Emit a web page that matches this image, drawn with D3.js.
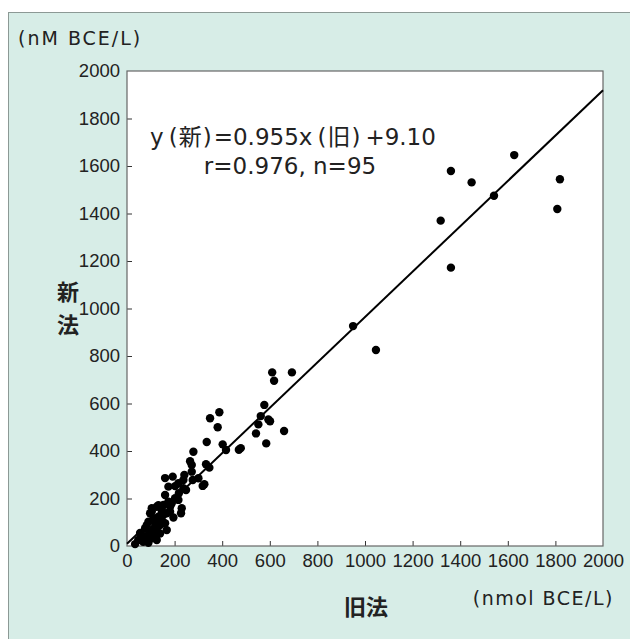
<!DOCTYPE html>
<html>
<head>
<meta charset="utf-8">
<script src="https://cdn.jsdelivr.net/npm/d3@7"></script>
<style>
  html, body { margin: 0; padding: 0; background: #ffffff; }
  svg { display: block; }
  text { font-family: "DejaVu Sans", "Noto Sans CJK JP", sans-serif; fill: #222; }
  .jp { font-family: "Noto Sans CJK JP", sans-serif; }
</style>
</head>
<body>
<svg id="chart" width="630" height="639"></svg>
<script>
// 旧法 (x) vs 新法 (y) measurements, nmol BCE/L
const oldMethod = [
  1361, 1448, 1627, 1542, 1819, 1808, 1318, 1361, 950, 1046,
  610, 618, 693, 577, 562, 594, 601, 552, 542, 585,
  660, 388, 349, 381, 335, 402, 416, 470, 478, 279,
  265, 272, 332, 346, 241, 237, 272, 300, 318, 325,
  160, 192, 174, 202, 216, 248, 218, 174, 188, 202,
  227, 167, 181, 104, 125, 146, 97, 111, 132, 153,
  90, 118, 139, 160, 167, 76, 97, 125, 139, 62,
  83, 104, 125, 47, 68, 90, 34, 276, 237, 160,
  216, 181, 230, 153, 146, 118, 83, 55, 146, 111,
  104, 132, 90, 195, 125
];
const newMethod = [
  1579, 1531, 1646, 1475, 1544, 1419, 1370, 1172, 926, 825,
  731, 696, 731, 594, 547, 533, 525, 512, 474, 432,
  484, 563, 538, 500, 438, 428, 404, 405, 412, 397,
  357, 341, 344, 330, 299, 278, 313, 285, 253, 260,
  286, 292, 250, 252, 264, 236, 222, 187, 180, 201,
  138, 138, 144, 159, 165, 152, 138, 117, 123, 131,
  102, 96, 88, 96, 67, 75, 60, 67, 53, 46,
  39, 32, 25, 25, 18, 14, 8, 278, 243, 215,
  194, 165, 159, 173, 138, 110, 88, 55, 110, 73,
  145, 172, 48, 120, 45
];
const tickValues = [0, 200, 400, 600, 800, 1000, 1200, 1400, 1600, 1800, 2000];
const slope = 0.955;
const intercept = 9.10;
// Equation pieces: [text, extra space before]
const equationParts = [["y", 0], ["(", 5], ["新", 1], [")", 1], ["=0.955x", 2], ["(", 5], ["旧", 1], [")", 1], ["+9.10", 5]];
const statsLabel = "r=0.976, n=95";
const yUnit = "(nM BCE/L)";
const xUnit = "(nmol BCE/L)";
const yTitle = ["新", "法"];
const xTitle = "旧法";

const points = oldMethod.map((v, i) => ({ x: v, y: newMethod[i] }));

const svg = d3.select("#chart");

// Mint panel behind the whole figure
svg.append("rect")
  .attr("x", 8.5).attr("y", 12.5)
  .attr("width", 640).attr("height", 640)
  .attr("fill", "#d7ede7")
  .attr("stroke", "#8c9995").attr("stroke-width", 1);

const x = d3.scaleLinear().domain([0, 2000]).range([127, 603]);
const y = d3.scaleLinear().domain([0, 2000]).range([546, 71]);

// Plot area
svg.append("rect")
  .attr("x", x(0)).attr("y", y(2000))
  .attr("width", x(2000) - x(0)).attr("height", y(0) - y(2000))
  .attr("fill", "#ffffff");

const xAxis = d3.axisBottom(x).tickValues(tickValues).tickSize(-5).tickPadding(8).tickFormat(d3.format("d"));
const yAxis = d3.axisLeft(y).tickValues(tickValues).tickSize(-5).tickPadding(7).tickFormat(d3.format("d"));

const gx = svg.append("g").attr("transform", `translate(0,${y(0)})`).call(xAxis);
const gy = svg.append("g").attr("transform", `translate(${x(0)},0)`).call(yAxis);

[gx, gy].forEach(g => {
  g.select(".domain").remove();
  g.selectAll(".tick line").attr("stroke", "#333").attr("stroke-width", 1)
    .filter(d => d === 0 || d === 2000).remove();
  g.selectAll(".tick text")
    .attr("fill", "#222")
    .style("font-size", "18.5px")
    .style("font-family", "'Liberation Sans', Arial, sans-serif");
});

// Plot frame
svg.append("rect")
  .attr("x", x(0)).attr("y", y(2000))
  .attr("width", x(2000) - x(0)).attr("height", y(0) - y(2000))
  .attr("fill", "none")
  .attr("stroke", "#666").attr("stroke-width", 1.2);

// Regression line
const line = d3.line().x(d => x(d)).y(d => y(slope * d + intercept));
svg.append("path")
  .datum([0, 2000])
  .attr("d", line)
  .attr("fill", "none")
  .attr("stroke", "#000")
  .attr("stroke-width", 2);

// Data points
svg.append("g")
  .selectAll("circle")
  .data(points)
  .join("circle")
  .attr("cx", d => x(d.x))
  .attr("cy", d => y(d.y))
  .attr("r", 4.2)
  .attr("fill", "#000");

// Equation and statistics
const eq = svg.append("text")
  .attr("x", 293).attr("y", 145)
  .attr("text-anchor", "middle")
  .style("font-size", "23px");
eq.selectAll("tspan")
  .data(equationParts)
  .join("tspan")
  .attr("dx", d => d[1])
  .text(d => d[0]);
svg.append("text")
  .attr("x", 290).attr("y", 174)
  .attr("text-anchor", "middle")
  .style("font-size", "23px")
  .text(statsLabel);

// Units
svg.append("text")
  .attr("x", 18).attr("y", 45)
  .style("font-size", "19px")
  .style("letter-spacing", "2px")
  .text(yUnit);
svg.append("text")
  .attr("x", 614).attr("y", 605)
  .attr("text-anchor", "end")
  .style("font-size", "19px")
  .style("letter-spacing", "1.5px")
  .text(xUnit);

// Axis titles
svg.append("g")
  .selectAll("text")
  .data(yTitle)
  .join("text")
  .attr("class", "jp")
  .attr("x", 68)
  .attr("y", (d, i) => 300 + i * 33)
  .attr("text-anchor", "middle")
  .style("font-size", "22px")
  .style("font-weight", "700")
  .text(d => d);
svg.append("text")
  .attr("class", "jp")
  .attr("x", 366).attr("y", 615)
  .attr("text-anchor", "middle")
  .style("font-size", "22px")
  .style("font-weight", "700")
  .text(xTitle);
</script>
</body>
</html>
